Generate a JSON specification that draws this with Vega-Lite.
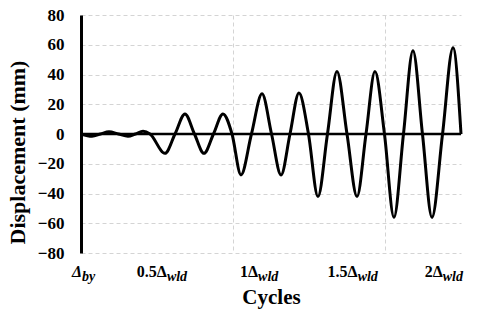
{
  "$schema": "https://vega.github.io/schema/vega-lite/v6.json",
  "width": 380,
  "height": 238,
  "autosize": {"type": "none"},
  "padding": {"left": 81, "top": 15, "right": 19, "bottom": 67},
  "background": "white",
  "config": {
    "view": {"stroke": null},
    "font": "Liberation Serif",
    "axisX": {
      "labels": false, "ticks": false, "domain": false, "tickCount": 5,
      "grid": true, "gridDash": [4, 3], "gridColor": "#d4d4d4", "gridWidth": 1,
      "titleFont": "Liberation Serif", "titleFontSize": 21,
      "titleFontWeight": "bold", "titleColor": "black", "titlePadding": 33
    },
    "axisY": {
      "ticks": false, "labelOverlap": false, "tickCount": 9,
      "domain": true, "domainColor": "black", "domainWidth": 3,
      "grid": true, "gridDash": [4, 3], "gridColor": "#d4d4d4", "gridWidth": 1,
      "labelFont": "Liberation Serif", "labelFontSize": 17, "labelFontWeight": "bold",
      "labelColor": "black", "labelPadding": 17,
      "titleFont": "Liberation Serif", "titleFontSize": 22,
      "titleFontWeight": "bold", "titleColor": "black", "titlePadding": 8, "titleY": 137
    }
  },
  "datasets": {
    "curve": [
      {"x": 0, "y": 0},
      {"x": 0.145, "y": -1.5},
      {"x": 0.257, "y": 0},
      {"x": 0.368, "y": 1.5},
      {"x": 0.493, "y": 0},
      {"x": 0.618, "y": -1.5},
      {"x": 0.717, "y": 0},
      {"x": 0.816, "y": 1.8},
      {"x": 0.908, "y": 0},
      {"x": 1.105, "y": -13},
      {"x": 1.237, "y": 0},
      {"x": 1.368, "y": 13.5},
      {"x": 1.493, "y": 0},
      {"x": 1.618, "y": -13},
      {"x": 1.743, "y": 0},
      {"x": 1.868, "y": 13.5},
      {"x": 1.987, "y": 0},
      {"x": 2.105, "y": -27.5},
      {"x": 2.243, "y": 0},
      {"x": 2.382, "y": 27},
      {"x": 2.507, "y": 0},
      {"x": 2.632, "y": -27.5},
      {"x": 2.75, "y": 0},
      {"x": 2.868, "y": 27.5},
      {"x": 2.993, "y": 0},
      {"x": 3.118, "y": -42},
      {"x": 3.243, "y": 0},
      {"x": 3.368, "y": 42},
      {"x": 3.5, "y": 0},
      {"x": 3.632, "y": -42},
      {"x": 3.75, "y": 0},
      {"x": 3.868, "y": 42},
      {"x": 3.993, "y": 0},
      {"x": 4.118, "y": -56},
      {"x": 4.243, "y": 0},
      {"x": 4.368, "y": 56},
      {"x": 4.493, "y": 0},
      {"x": 4.618, "y": -56},
      {"x": 4.757, "y": 0},
      {"x": 4.895, "y": 58},
      {"x": 5.0, "y": 0}
    ],
    "labels": [
      {"pos": 1.13, "main": "0.5Δ", "sub": "wld"},
      {"pos": 2.33, "main": "1Δ", "sub": "wld"},
      {"pos": 3.64, "main": "1.5Δ", "sub": "wld"},
      {"pos": 4.76, "main": "2Δ", "sub": "wld"}
    ],
    "first": [
      {"pos": 0.013, "main": "Δ", "sub": "by"}
    ],
    "zero": [
      {"y": 0}
    ]
  },
  "layer": [
    {
      "data": {"name": "curve"},
      "mark": {"type": "line", "interpolate": "monotone", "color": "black", "strokeWidth": 3},
      "encoding": {
        "x": {
          "field": "x", "type": "quantitative",
          "scale": {"domain": [0, 5], "nice": false},
          "axis": {"title": "Cycles", "values": [0, 1, 2, 3, 4, 5]}
        },
        "y": {
          "field": "y", "type": "quantitative",
          "scale": {"domain": [-80, 80], "nice": false},
          "axis": {
            "title": "Displacement (mm)", "values": [-80, -60, -40, -20, 0, 20, 40, 60, 80],
            "labelFont": "Liberation Serif", "labelFontSize": 17, "labelFontWeight": "bold",
            "labelColor": "black", "labelPadding": 17
          }
        }
      }
    },
    {
      "data": {"name": "zero"},
      "mark": {"type": "rule", "color": "black", "strokeWidth": 2.5},
      "encoding": {"y": {"field": "y", "type": "quantitative", "axis": {"values": [-80, -60, -40, -20, 0, 20, 40, 60, 80]}}}
    },
    {
      "data": {"name": "labels"},
      "mark": {"type": "text", "align": "right", "baseline": "alphabetic", "dy": 24, "font": "Liberation Serif", "fontSize": 16, "fontWeight": "bold", "color": "black"},
      "encoding": {"x": {"field": "pos", "type": "quantitative", "axis": {"values": [0, 1, 2, 3, 4, 5]}}, "y": {"datum": -80, "axis": {"values": [-80, -60, -40, -20, 0, 20, 40, 60, 80]}}, "text": {"field": "main"}}
    },
    {
      "data": {"name": "labels"},
      "mark": {"type": "text", "align": "left", "baseline": "alphabetic", "dy": 28, "font": "Liberation Serif", "fontSize": 14, "fontWeight": "bold", "fontStyle": "italic", "color": "black"},
      "encoding": {"x": {"field": "pos", "type": "quantitative", "axis": {"values": [0, 1, 2, 3, 4, 5]}}, "y": {"datum": -80, "axis": {"values": [-80, -60, -40, -20, 0, 20, 40, 60, 80]}}, "text": {"field": "sub"}}
    },
    {
      "data": {"name": "first"},
      "mark": {"type": "text", "align": "right", "baseline": "alphabetic", "dy": 24, "font": "Liberation Serif", "fontSize": 16, "fontWeight": "bold", "fontStyle": "italic", "color": "black"},
      "encoding": {"x": {"field": "pos", "type": "quantitative", "axis": {"values": [0, 1, 2, 3, 4, 5]}}, "y": {"datum": -80, "axis": {"values": [-80, -60, -40, -20, 0, 20, 40, 60, 80]}}, "text": {"field": "main"}}
    },
    {
      "data": {"name": "first"},
      "mark": {"type": "text", "align": "left", "baseline": "alphabetic", "dy": 28, "font": "Liberation Serif", "fontSize": 14, "fontWeight": "bold", "fontStyle": "italic", "color": "black"},
      "encoding": {"x": {"field": "pos", "type": "quantitative", "axis": {"values": [0, 1, 2, 3, 4, 5]}}, "y": {"datum": -80, "axis": {"values": [-80, -60, -40, -20, 0, 20, 40, 60, 80]}}, "text": {"field": "sub"}}
    }
  ]
}
